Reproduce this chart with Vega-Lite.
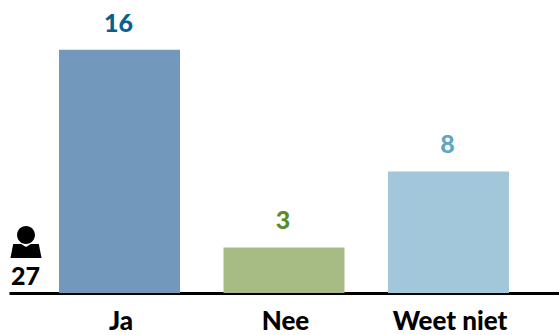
{
  "$schema": "https://vega.github.io/schema/vega-lite/v6.json",
  "width": 550,
  "height": 293,
  "autosize": "none",
  "padding": {"left": 9, "top": 0, "right": 0, "bottom": 42},
  "background": "white",
  "config": {"view": {"stroke": null}},
  "data": {"values": [
    {"answer": "Ja", "count": 16, "total": 27},
    {"answer": "Nee", "count": 3},
    {"answer": "Weet niet", "count": 8}
  ]},
  "encoding": {
    "x": {
      "field": "answer", "type": "nominal", "sort": null,
      "scale": {"paddingInner": 0.2644, "paddingOuter": 0.304},
      "axis": {"title": null, "labelAngle": 0, "ticks": false, "domainColor": "#000000", "domainWidth": 3, "labelFont": "Lato", "labelFontWeight": 900, "labelFontSize": 26, "labelColor": "#000000", "labelPadding": 15, "labelOffset": 1.5, "grid": false}
    },
    "y": {
      "field": "count", "type": "quantitative",
      "scale": {"domain": [0, 19.28], "nice": false},
      "axis": null
    }
  },
  "layer": [
    {
      "mark": {"type": "bar"},
      "encoding": {
        "color": {"field": "answer", "type": "nominal", "legend": null, "sort": null,
          "scale": {"range": ["#7299BC", "#A7BC84", "#A2C6DA"]}}
      }
    },
    {
      "mark": {"type": "text", "baseline": "middle", "dy": -26, "dx": -1, "font": "Lato", "fontWeight": 900, "fontSize": 25},
      "encoding": {
        "text": {"field": "count", "type": "quantitative"},
        "color": {"field": "answer", "type": "nominal", "legend": null, "sort": null,
          "scale": {"range": ["#0B5F8F", "#5B8C2A", "#5FA5C5"]}}
      }
    },
    {
      "transform": [{"filter": "isValid(datum.total)"}],
      "mark": {"type": "text", "baseline": "middle", "dx": -94, "font": "Lato", "fontWeight": 900, "fontSize": 25, "color": "#000000", "dy": -16},
      "encoding": {
        "y": {"datum": 0},
        "text": {"field": "total", "type": "quantitative"}
      }
    },
    {
      "transform": [{"filter": "isValid(datum.total)"}],
      "mark": {
        "type": "point", "filled": true, "color": "#000000", "opacity": 1, "size": 1024, "strokeWidth": 0,
        "xOffset": -93.5, "yOffset": -51,
        "shape": "M-.56,-.44 A.56,.56 0 1 1 .56,-.44 A.56,.56 0 1 1 -.56,-.44 Z M-.8,.12 L-.3,.12 L0,.32 L.3,.12 L.8,.12 L.97,1 L-.97,1 Z"
      },
      "encoding": {"y": {"datum": 0}}
    }
  ],
  "resolve": {"scale": {"color": "independent"}}
}
